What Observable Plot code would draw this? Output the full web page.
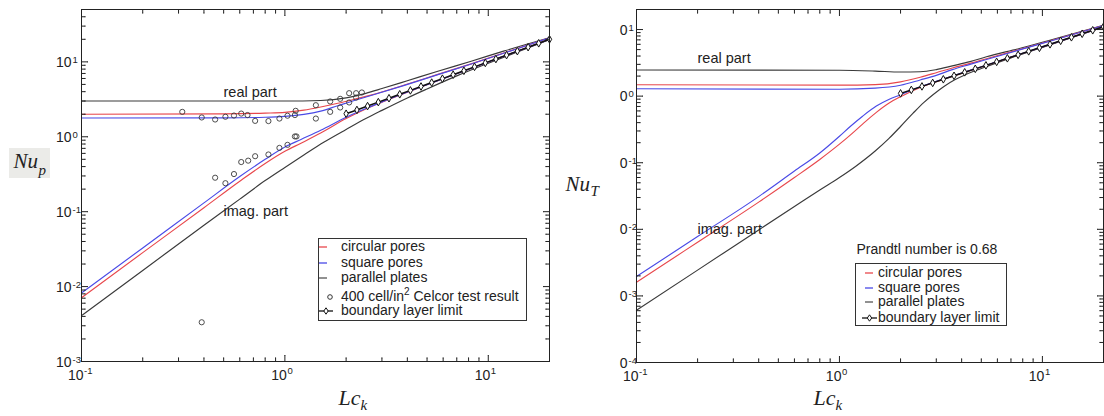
<!DOCTYPE html>
<html>
<head>
<meta charset="utf-8">
<script src="https://cdn.jsdelivr.net/npm/d3@7"></script>
<script src="https://cdn.jsdelivr.net/npm/@observablehq/plot@0.6"></script>
<style>
  body { margin: 0; background: white; }
  #wrap { position: relative; width: 1104px; height: 416px; overflow: hidden; font-family: "Liberation Sans", Arial, sans-serif; color: #222; }
  .abs { position: absolute; }
  .lg { position: absolute; font-size: 14px; line-height: 16px; white-space: nowrap; color: #222; }
</style>
</head>
<body>
<div id="wrap">
  <div class="abs" style="left:9px;top:148px;width:41px;height:30px;background:#ebebe8"></div>
  <div id="left" class="abs" style="left:0;top:0;width:560px;height:416px"></div>
  <div id="right" class="abs" style="left:560px;top:0;width:544px;height:416px"></div>
</div>
<script>
// ---------- tick values ----------
const xMajor = [0.1, 1, 10];
const xMinor = [0.2, 0.3, 0.4, 0.5, 0.6, 0.7, 0.8, 0.9, 2, 3, 4, 5, 6, 7, 8, 9];
const pMajor = [0.001, 0.01, 0.1, 1, 10];
const pMinor = [0.002,0.003,0.004,0.005,0.006,0.007,0.008,0.009,
                0.02,0.03,0.04,0.05,0.06,0.07,0.08,0.09,
                0.2,0.3,0.4,0.5,0.6,0.7,0.8,0.9,
                2,3,4,5,6,7,8,9,20,30,40];
const tMajor = [0.0001, 0.001, 0.01, 0.1, 1, 10];
const tMinor = [0.0002,0.0003,0.0004,0.0005,0.0006,0.0007,0.0008,0.0009,
                0.002,0.003,0.004,0.005,0.006,0.007,0.008,0.009,
                0.02,0.03,0.04,0.05,0.06,0.07,0.08,0.09,
                0.2,0.3,0.4,0.5,0.6,0.7,0.8,0.9,
                2,3,4,5,6,7,8,9];

// ---------- left panel (Nu_p) ----------
const pRealPlatesX = [0.1, 0.5, 1.0, 1.5, 2.0, 2.5, 3.0, 4.0, 5.65, 8.24, 12, 20];
const pRealPlatesY = [3.0, 3.0, 3.0, 3.05, 3.3, 3.8, 4.4, 5.6, 7.5, 10.2, 14, 21];
const pRealCircX = [0.1, 0.5, 0.8, 1.0, 1.24, 1.5, 1.82, 2.28, 2.65, 3.87, 5.65, 8.24, 12, 20];
const pRealCircY = [2.0, 2.02, 2.07, 2.12, 2.27, 2.5, 2.8, 3.25, 3.6, 4.9, 6.8, 9.4, 13.2, 21];
const pRealSqY   = [1.78, 1.79, 1.82, 1.87, 1.99, 2.2, 2.6, 3.15, 3.55, 4.85, 6.75, 9.35, 13.1, 21];
const pImagPlatesX = [0.1, 0.2, 0.4, 0.6, 0.8, 1.0, 1.25, 1.56, 2.0, 2.5, 3.0, 4.0, 5.0, 7.0, 10, 20];
const pImagPlatesY = [0.0041, 0.0164, 0.066, 0.147, 0.26, 0.39, 0.58, 0.85, 1.25, 1.75, 2.25, 3.3, 4.35, 6.5, 9.6, 19.9];
const pImagPoreX = [0.1, 0.2, 0.4, 0.6, 0.8, 1.0, 1.2, 1.5, 2.0, 2.5, 3.0, 5, 10, 20];
const pImagCircY = [0.0071, 0.0284, 0.113, 0.255, 0.44, 0.64, 0.82, 1.12, 1.75, 2.35, 2.9, 4.95, 9.95, 20];
const pImagSqY   = [0.0082, 0.0328, 0.131, 0.295, 0.5, 0.73, 0.92, 1.22, 1.82, 2.38, 2.92, 4.95, 9.95, 20];
const blX  = [2.0, 2.26, 2.55, 2.88, 3.25, 3.67, 4.14, 4.67, 5.27, 5.95, 6.72, 7.59, 8.56, 9.67, 10.9, 12.3, 13.9, 15.7, 17.7, 20.0];
const pBLY = [2.03, 2.28, 2.57, 2.9, 3.27, 3.69, 4.16, 4.69, 5.29, 5.97, 6.74, 7.6, 8.58, 9.68, 10.9, 12.3, 13.9, 15.7, 17.7, 20.0];
const testX = [0.313, 0.39, 0.454, 0.51, 0.562, 0.61, 0.655, 0.714, 0.83, 0.94, 1.03, 1.12, 1.13,
               0.454, 0.51, 0.562, 0.61, 0.66, 0.714, 0.83, 0.94, 1.03, 1.12, 1.14,
               1.42, 1.42, 1.67, 1.67, 1.87, 1.87, 2.07, 2.07, 2.24, 2.24, 2.39, 0.39];
const testY = [2.15, 1.81, 1.70, 1.85, 1.92, 2.04, 1.95, 1.63, 1.62, 1.75, 1.91, 1.95, 2.22,
               0.284, 0.24, 0.318, 0.46, 0.48, 0.55, 0.58, 0.71, 0.78, 1.01, 1.01,
               2.64, 1.75, 2.96, 2.15, 3.21, 2.46, 3.82, 2.87, 3.82, 3.34, 3.9, 0.00334];

// ---------- right panel (Nu_T) ----------
const tRealX = [0.1, 1.0, 1.5, 2.0, 2.5, 3.0, 3.6, 4.4, 5.3, 7.7, 11.2, 20];
const tRealPlatesY = [2.47, 2.45, 2.38, 2.3, 2.32, 2.5, 2.85, 3.3, 3.9, 5.2, 7.1, 11.6];
const tRealCircY   = [1.48, 1.46, 1.49, 1.64, 1.92, 2.25, 2.65, 3.1, 3.65, 5.0, 6.9, 11.5];
const tRealSqY     = [1.29, 1.27, 1.32, 1.46, 1.75, 2.05, 2.5, 3.0, 3.55, 4.95, 6.85, 11.5];
const tImagPlatesX = [0.1, 0.2, 0.4, 0.6, 0.8, 1.0, 1.2, 1.5, 1.75, 2.0, 2.3, 2.6, 2.9, 3.3, 3.7, 4.2, 5.0, 7, 10, 20];
const tImagPlatesY = [0.00061, 0.00244, 0.0098, 0.022, 0.039, 0.06, 0.088, 0.15, 0.23, 0.35, 0.55, 0.8, 1.06, 1.42, 1.76, 2.12, 2.6, 3.75, 5.4, 10.9];
const tImagPoreX = [0.1, 0.2, 0.4, 0.6, 0.8, 1.0, 1.13, 1.3, 1.52, 1.75, 2.0, 2.5, 3, 4, 5, 7, 10, 20];
const tImagCircY = [0.0016, 0.0064, 0.0256, 0.06, 0.112, 0.19, 0.26, 0.38, 0.57, 0.78, 0.98, 1.35, 1.65, 2.2, 2.74, 3.85, 5.48, 10.95];
const tImagSqY   = [0.00195, 0.0078, 0.031, 0.075, 0.14, 0.25, 0.35, 0.5, 0.71, 0.89, 1.05, 1.38, 1.67, 2.22, 2.76, 3.86, 5.49, 10.95];
const tBLY = [1.10, 1.24, 1.40, 1.58, 1.79, 2.02, 2.28, 2.57, 2.90, 3.27, 3.70, 4.17, 4.71, 5.32, 6.00, 6.78, 7.65, 8.64, 9.75, 11.0];

// ---------- legends ----------
const legendP = ["circular pores", "square pores", "parallel plates", "400 cell/in² Celcor test result", "boundary layer limit"];
const legendT = ["circular pores", "square pores", "parallel plates", "boundary layer limit"];

// ---------- styles ----------
const RED = "#e8474c", BLUE = "#4a4ae6", DARK = "#3a3a3a", INK = "#222";
const SANS = "'Liberation Sans', Arial, sans-serif";
const SERIF = "'Liberation Serif', 'Times New Roman', serif";

const rows = (xs, ys) => xs.map((x, i) => ({x, y: ys[i]}));
const expo = d => String(Math.round(Math.log10(d)));

function frameTicks(yMaj, yMin) {
  const c = {anchor: "start", r: 0, stroke: INK, strokeWidth: 1};
  const out = [];
  for (const [vals, len] of [[xMajor, 6], [xMinor, 3.5]]) {
    out.push(Plot.vector(vals, {x: d => d, frameAnchor: "bottom", rotate: 0, length: len, ...c}));
    out.push(Plot.vector(vals, {x: d => d, frameAnchor: "top", rotate: 180, length: len, ...c}));
  }
  for (const [vals, len] of [[yMaj, 6], [yMin, 3.5]]) {
    out.push(Plot.vector(vals, {y: d => d, frameAnchor: "left", rotate: 90, length: len, ...c}));
    out.push(Plot.vector(vals, {y: d => d, frameAnchor: "right", rotate: -90, length: len, ...c}));
  }
  return out;
}
function xLabels() {
  return [
    Plot.text(xMajor, {x: d => d, frameAnchor: "bottom", text: () => "10", textAnchor: "end", lineAnchor: "bottom", dx: 2, dy: 18.5, fontSize: 14, fill: INK}),
    Plot.text(xMajor, {x: d => d, frameAnchor: "bottom", text: expo, textAnchor: "start", lineAnchor: "bottom", dx: 2.5, dy: 12, fontSize: 9.5, fill: INK})
  ];
}
function yLabels(vals, base, dxBase) {
  return [
    Plot.text(vals, {y: d => d, frameAnchor: "left", text: () => base, textAnchor: "end", lineAnchor: "bottom", dx: dxBase, dy: 5, fontSize: 14, fill: INK}),
    Plot.text(vals, {y: d => d, frameAnchor: "left", text: expo, textAnchor: "start", lineAnchor: "bottom", dx: dxBase + 1, dy: 1, fontSize: 9.5, fill: INK})
  ];
}
const lineOpts = (stroke) => ({x: "x", y: "y", stroke, strokeWidth: 1.15, curve: "monotone-x"});
const blMarks = (ys) => [
  Plot.line(rows(blX, ys), {x: "x", y: "y", stroke: "#111", strokeWidth: 1.5}),
  Plot.dot(rows(blX, ys), {x: "x", y: "y", symbol: "diamond", r: 2.3, fill: "white", stroke: "#111", strokeWidth: 1})
];
const label = (t, dx, dy, opts = {}) => Plot.text([t], {frameAnchor: "top-left", text: d => d, textAnchor: "start", lineAnchor: "bottom", dx, dy, fontSize: 14.5, fill: INK, ...opts});

// ---------- left plot ----------
const leftPlot = Plot.plot({
  width: 560, height: 416,
  marginLeft: 81, marginRight: 11, marginTop: 9, marginBottom: 55,
  style: {background: "transparent", fontFamily: SANS, overflow: "visible"},
  x: {type: "log", domain: [0.1, 20], axis: null},
  y: {type: "log", domain: [0.001, 50], axis: null},
  marks: [
    Plot.line(rows(pRealPlatesX, pRealPlatesY), lineOpts(DARK)),
    Plot.line(rows(pImagPlatesX, pImagPlatesY), lineOpts(DARK)),
    Plot.line(rows(pRealCircX, pRealCircY), lineOpts(RED)),
    Plot.line(rows(pImagPoreX, pImagCircY), lineOpts(RED)),
    Plot.line(rows(pRealCircX, pRealSqY), lineOpts(BLUE)),
    Plot.line(rows(pImagPoreX, pImagSqY), lineOpts(BLUE)),
    ...blMarks(pBLY),
    Plot.dot(rows(testX, testY), {x: "x", y: "y", r: 2.6, fill: "none", stroke: DARK, strokeWidth: 0.9}),
    Plot.frame({stroke: INK, strokeWidth: 1}),
    ...frameTicks(pMajor, pMinor),
    ...xLabels(),
    ...yLabels(pMajor, "10", -10),
    label("real part", 142, 87),
    label("imag. part", 142, 206),
    Plot.text(["Nu"], {frameAnchor: "left", text: d => d, textAnchor: "start", lineAnchor: "bottom", dx: -68, dy: -18, fontSize: 21, fontFamily: SERIF, fontStyle: "italic", fill: INK}),
    Plot.text(["p"], {frameAnchor: "left", text: d => d, textAnchor: "start", lineAnchor: "bottom", dx: -43, dy: -11, fontSize: 15, fontFamily: SERIF, fontStyle: "italic", fill: INK}),
    Plot.text(["Lc"], {frameAnchor: "bottom", text: d => d, textAnchor: "start", lineAnchor: "bottom", dx: 23, dy: 43, fontSize: 22, fontFamily: SERIF, fontStyle: "italic", fill: INK}),
    Plot.text(["k"], {frameAnchor: "bottom", text: d => d, textAnchor: "start", lineAnchor: "bottom", dx: 45, dy: 48, fontSize: 15, fontFamily: SERIF, fontStyle: "italic", fill: INK})
  ]
});
document.getElementById("left").append(leftPlot);

// ---------- right plot ----------
const rightPlot = Plot.plot({
  width: 544, height: 416,
  marginLeft: 76, marginRight: 1, marginTop: 9, marginBottom: 54,
  style: {background: "transparent", fontFamily: SANS, overflow: "visible"},
  x: {type: "log", domain: [0.1, 20], axis: null},
  y: {type: "log", domain: [0.0001, 20], axis: null},
  marks: [
    Plot.line(rows(tRealX, tRealPlatesY), lineOpts(DARK)),
    Plot.line(rows(tImagPlatesX, tImagPlatesY), lineOpts(DARK)),
    Plot.line(rows(tRealX, tRealCircY), lineOpts(RED)),
    Plot.line(rows(tImagPoreX, tImagCircY), lineOpts(RED)),
    Plot.line(rows(tRealX, tRealSqY), lineOpts(BLUE)),
    Plot.line(rows(tImagPoreX, tImagSqY), lineOpts(BLUE)),
    ...blMarks(tBLY),
    Plot.frame({stroke: INK, strokeWidth: 1}),
    ...frameTicks(tMajor, tMinor),
    ...xLabels(),
    ...yLabels(tMajor, "0", -9),
    label("real part", 61, 53),
    label("imag. part", 61, 224),
    label("Prandtl number is 0.68", 220, 244, {fontSize: 14}),
    Plot.text(["Nu"], {frameAnchor: "left", text: d => d, textAnchor: "start", lineAnchor: "bottom", dx: -71, dy: 4.5, fontSize: 21, fontFamily: SERIF, fontStyle: "italic", fill: INK}),
    Plot.text(["T"], {frameAnchor: "left", text: d => d, textAnchor: "start", lineAnchor: "bottom", dx: -46, dy: 9.5, fontSize: 15, fontFamily: SERIF, fontStyle: "italic", fill: INK}),
    Plot.text(["Lc"], {frameAnchor: "bottom", text: d => d, textAnchor: "start", lineAnchor: "bottom", dx: -56.5, dy: 42, fontSize: 22, fontFamily: SERIF, fontStyle: "italic", fill: INK}),
    Plot.text(["k"], {frameAnchor: "bottom", text: d => d, textAnchor: "start", lineAnchor: "bottom", dx: -34.5, dy: 47, fontSize: 15, fontFamily: SERIF, fontStyle: "italic", fill: INK})
  ]
});
document.getElementById("right").append(rightPlot);

// ---------- legends (HTML overlay) ----------
const wrap = document.getElementById("wrap");
function addBox(l, t, w, h) {
  const b = document.createElement("div");
  b.className = "abs";
  b.style.cssText = `left:${l}px;top:${t}px;width:${w}px;height:${h}px;box-sizing:border-box;border:1px solid #333;background:white`;
  wrap.append(b);
}
function addText(txt, l, baseline) {
  const d = document.createElement("div");
  d.className = "lg";
  d.style.left = l + "px";
  d.style.top = (baseline - 13) + "px";
  const parts = txt.split("²");
  d.append(parts[0]);
  if (parts.length > 1) {
    const s = document.createElement("span");
    s.textContent = "2";
    s.style.cssText = "font-size:10px;position:relative;top:-6px";
    d.append(s, parts[1]);
  }
  wrap.append(d);
}
function addSwatch(kind, color, x0, x1, cy, mx) {
  const ns = "http://www.w3.org/2000/svg";
  const svg = document.createElementNS(ns, "svg");
  const pad = 4;
  svg.setAttribute("width", x1 - x0 + 2 * pad);
  svg.setAttribute("height", 12);
  svg.style.cssText = `position:absolute;left:${x0 - pad}px;top:${cy - 6}px;overflow:visible`;
  if (kind !== "circle") {
    const ln = document.createElementNS(ns, "line");
    ln.setAttribute("x1", pad); ln.setAttribute("x2", x1 - x0 + pad);
    ln.setAttribute("y1", 6); ln.setAttribute("y2", 6);
    ln.setAttribute("stroke", color); ln.setAttribute("stroke-width", 1.3);
    svg.append(ln);
  }
  if (kind === "circle") {
    const c = document.createElementNS(ns, "circle");
    c.setAttribute("cx", mx - x0 + pad); c.setAttribute("cy", 6); c.setAttribute("r", 2.3);
    c.setAttribute("fill", "none"); c.setAttribute("stroke", "#333");
    svg.append(c);
  }
  if (kind === "bl") {
    const p = document.createElementNS(ns, "path");
    const cx = mx - x0 + pad;
    p.setAttribute("d", `M${cx},2.8L${cx + 2.2},6L${cx},9.2L${cx - 2.2},6Z`);
    p.setAttribute("fill", "white"); p.setAttribute("stroke", "#111");
    svg.append(p);
  }
  wrap.append(svg);
}
const kindsP = ["line", "line", "line", "circle", "bl"];
const colorsP = [RED, BLUE, "#555", "#333", "#111"];
addBox(318, 238, 209, 83);
const baseP = [251.3, 266.7, 282, 300.7, 315];
legendP.forEach((name, i) => {
  addSwatch(kindsP[i], colorsP[i], 319, kindsP[i] === "bl" ? 333 : 327, baseP[i] - 4, kindsP[i] === "bl" ? 326 : 330);
  addText(name, 341, baseP[i]);
});
const kindsT = ["line", "line", "line", "bl"];
const colorsT = [RED, BLUE, "#555", "#111"];
addBox(855, 263, 152, 63);
const baseT = [276.7, 291.7, 306.3, 321.7];
legendT.forEach((name, i) => {
  addSwatch(kindsT[i], colorsT[i], kindsT[i] === "bl" ? 862 : 865, kindsT[i] === "bl" ? 877 : 873, baseT[i] - 4, 869.5);
  addText(name, 878, baseT[i]);
});
</script>
</body>
</html>
